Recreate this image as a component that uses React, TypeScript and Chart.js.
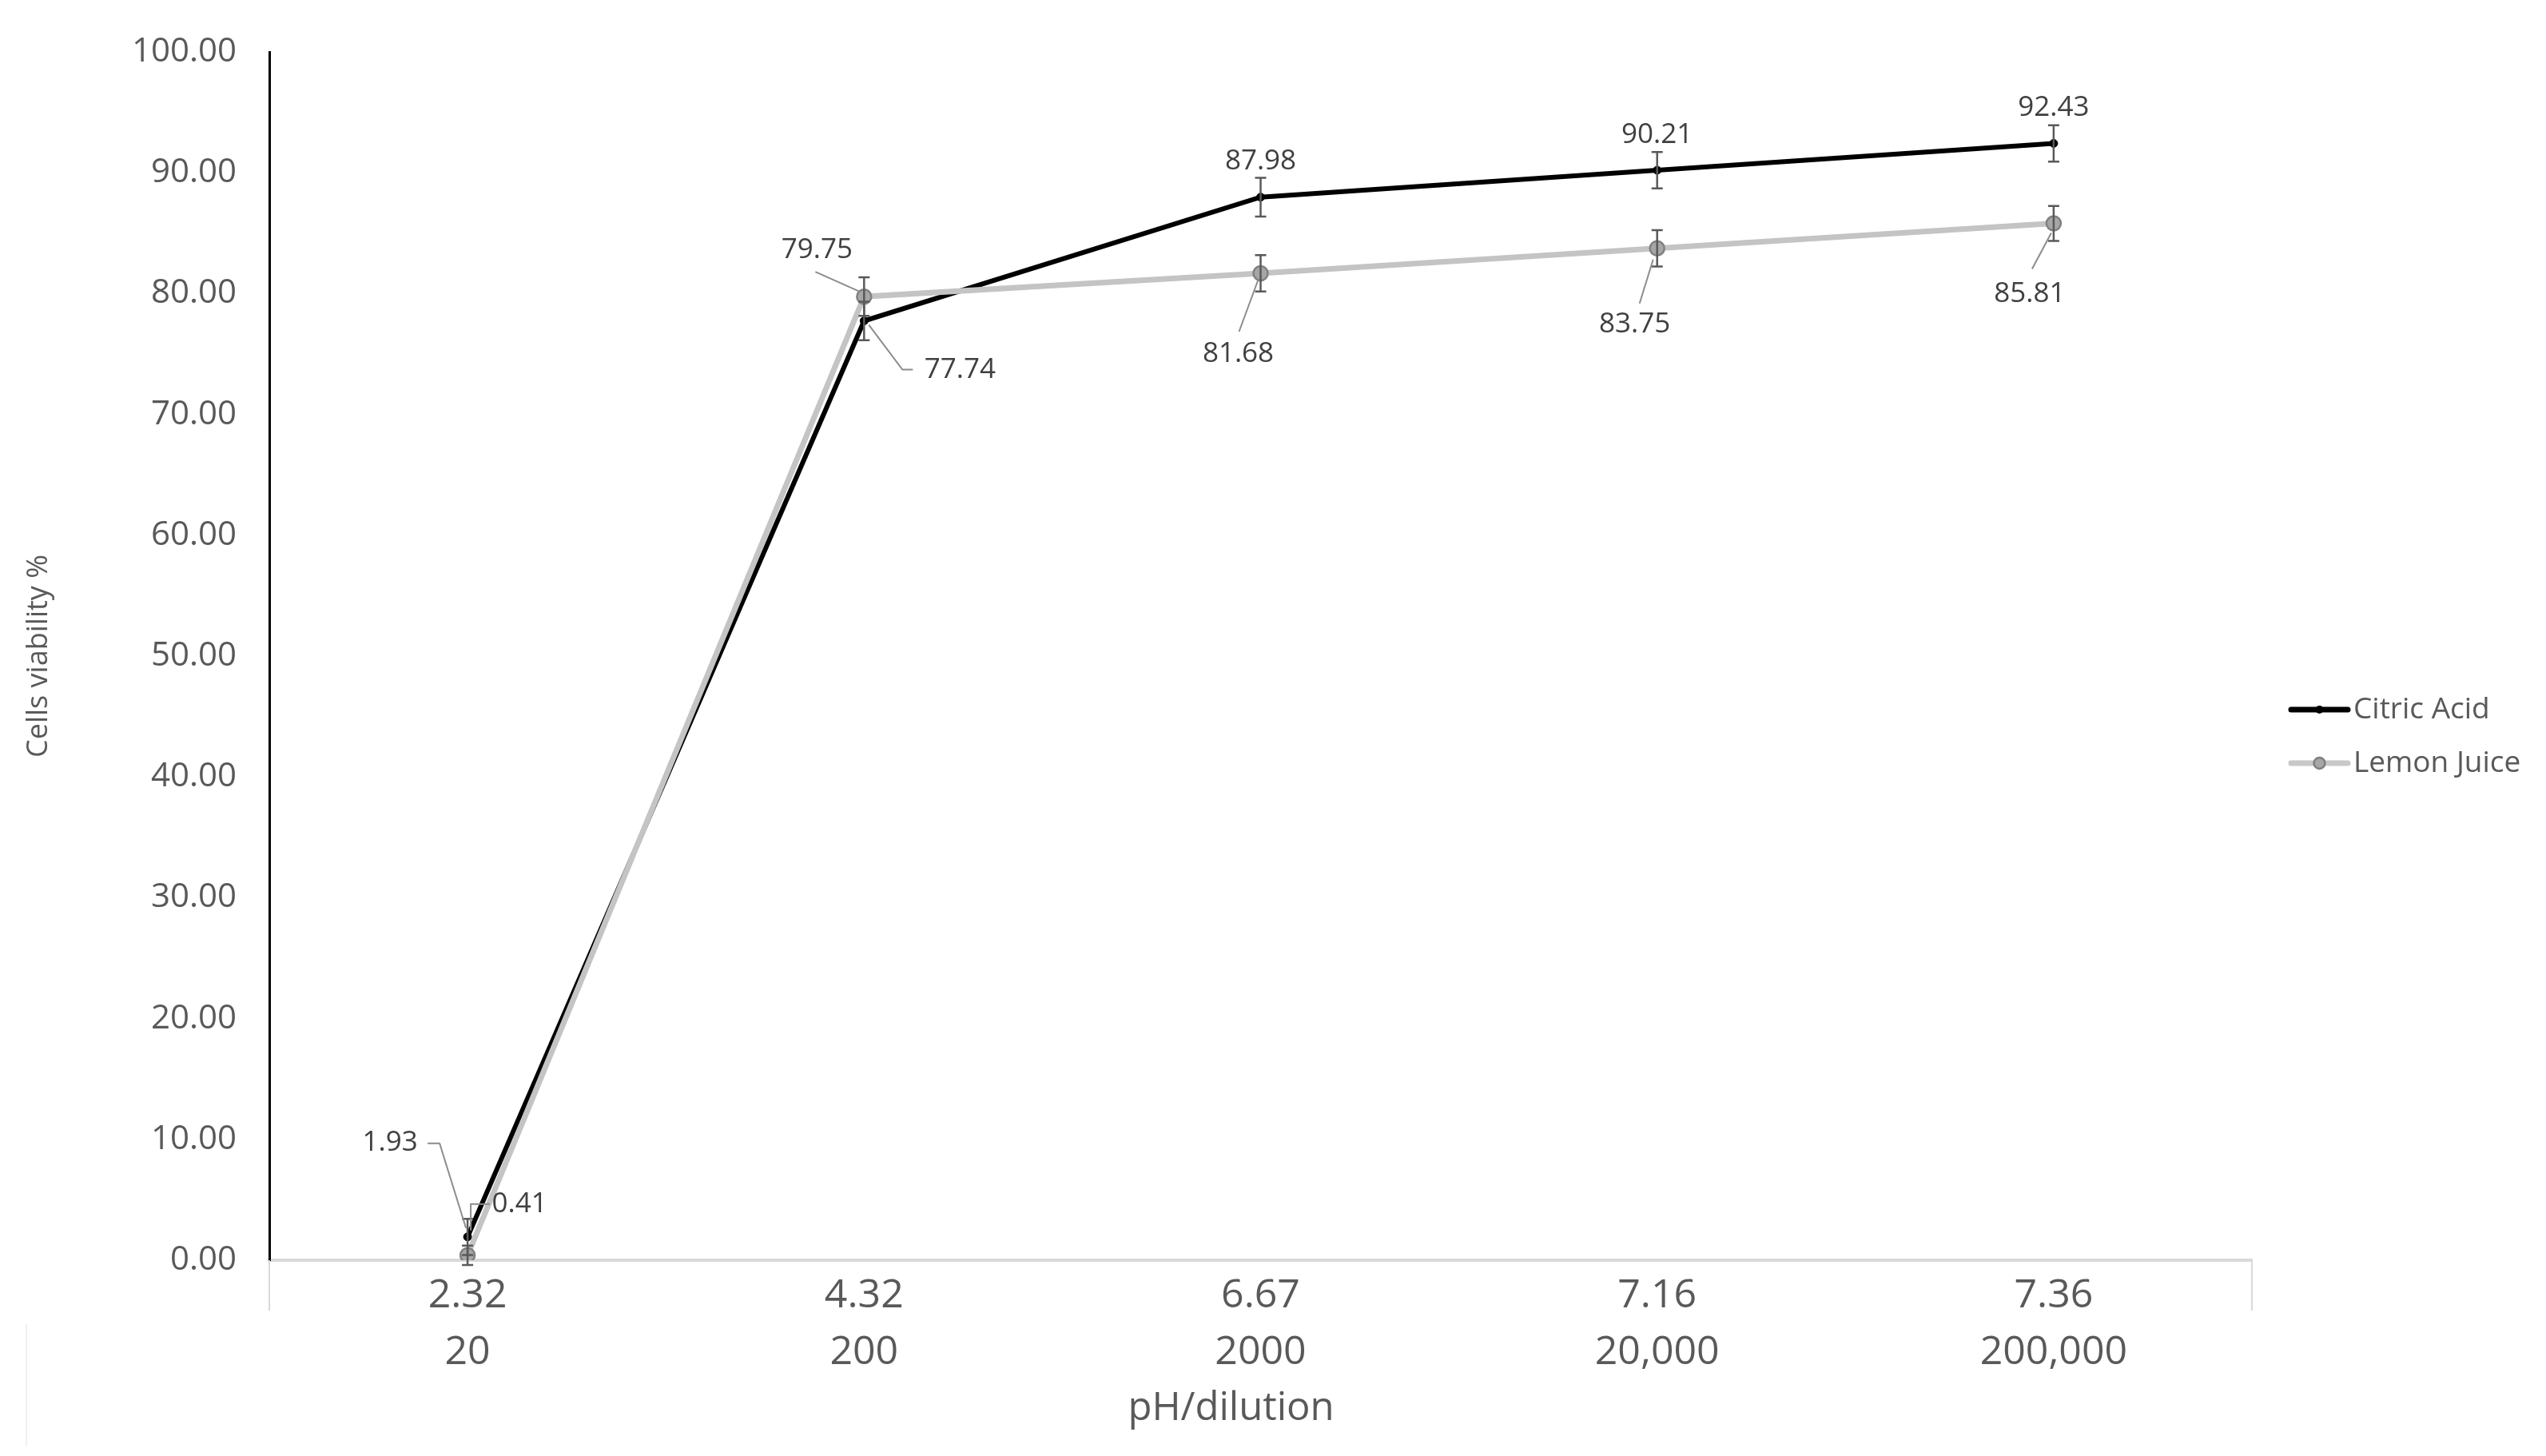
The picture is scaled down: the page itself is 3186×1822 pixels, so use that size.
import React, { useEffect, useRef } from "react";
import { Chart, registerables } from "chart.js";

Chart.register(...registerables);

// ---------- data ----------
const phLabels = ["2.32", "4.32", "6.67", "7.16", "7.36"];
const dilutionLabels = ["20", "200", "2000", "20,000", "200,000"];
const seriesNames = ["Citric Acid", "Lemon Juice"];
const citricAcid = [1.93, 77.74, 87.98, 90.21, 92.43];
const lemonJuice = [0.41, 79.75, 81.68, 83.75, 85.81];
const citricErr = [1.5, 1.6, 1.6, 1.5, 1.5];
const lemonErr = [0.8, 1.6, 1.5, 1.5, 1.45];
const yMin = 0;
const yMax = 100;
const yStep = 10;
const xTitle = "pH/dilution";
const yTitle = "Cells viability %";

// ---------- style (label offsets relative to each point, px) ----------
const FONT = "'Open Sans', 'Liberation Sans', Arial, sans-serif";
const TEXT = "#595959";
const LABEL_TEXT = "#404040";

type LabelStyle = { dx: number; dy: number; leader?: number[][] };
const labelStyles: LabelStyle[][] = [
  [
    { dx: -97, dy: -118, leader: [[-50, -117], [-35, -117], [-2, -11]] },
    { dx: 120, dy: 61, leader: [[61, 61], [48, 61], [6, 5]] },
    { dx: 0, dy: -45 },
    { dx: 0, dy: -44 },
    { dx: 0, dy: -44 },
  ],
  [
    { dx: 65, dy: -64, leader: [[28, -64], [4, -64], [4, -31]] },
    { dx: -59, dy: -58, leader: [[-61, -31], [-5, -6]] },
    { dx: -28, dy: 101, leader: [[-27, 73], [-3, 8]] },
    { dx: -28, dy: 95, leader: [[-22, 69], [-5, 14]] },
    { dx: -30, dy: 88, leader: [[-27, 57], [-3, 12]] },
  ],
];

const seriesValues = [citricAcid, lemonJuice];
const seriesErrors = [citricErr, lemonErr];

const errorBarPlugin = {
  id: "errorBars",
  afterDatasetsDraw(chart: any) {
    const { ctx } = chart;
    const y = chart.scales.y;
    ctx.save();
    ctx.strokeStyle = "#595959";
    ctx.lineWidth = 2.5;
    seriesValues.forEach((vals, di) => {
      const meta = chart.getDatasetMeta(di);
      vals.forEach((v, i) => {
        const el = meta.data[i];
        if (!el) return;
        const e = seriesErrors[di][i];
        const top = y.getPixelForValue(v + e);
        const bot = y.getPixelForValue(Math.max(v - e, yMin - 5));
        const cap = 7;
        ctx.beginPath();
        ctx.moveTo(el.x, top);
        ctx.lineTo(el.x, bot);
        ctx.moveTo(el.x - cap, top);
        ctx.lineTo(el.x + cap, top);
        ctx.moveTo(el.x - cap, bot);
        ctx.lineTo(el.x + cap, bot);
        ctx.stroke();
      });
    });
    ctx.restore();
  },
};

const dataLabelPlugin = {
  id: "dataLabels",
  afterDatasetsDraw(chart: any) {
    const { ctx } = chart;
    ctx.save();
    seriesValues.forEach((vals, di) => {
      const meta = chart.getDatasetMeta(di);
      vals.forEach((v, i) => {
        const el = meta.data[i];
        if (!el) return;
        const st = labelStyles[di][i];
        if (st.leader) {
          ctx.strokeStyle = "#8c8c8c";
          ctx.lineWidth = 2;
          ctx.beginPath();
          st.leader.forEach((p, k) => {
            if (k === 0) ctx.moveTo(el.x + p[0], el.y + p[1]);
            else ctx.lineTo(el.x + p[0], el.y + p[1]);
          });
          ctx.stroke();
        }
        ctx.fillStyle = LABEL_TEXT;
        ctx.font = `35px ${FONT}`;
        ctx.textAlign = "center";
        ctx.textBaseline = "middle";
        ctx.fillText(v.toFixed(2), el.x + st.dx, el.y + st.dy);
      });
    });
    ctx.restore();
  },
};

const legendPlugin = {
  id: "customLegend",
  afterDraw(chart: any) {
    const { ctx, chartArea } = chart;
    const x0 = chartArea.right + 49;
    const x1 = chartArea.right + 120;
    const tx = chartArea.right + 127;
    const cy = (chartArea.top + chartArea.bottom) / 2;
    const rows = [cy + 67, cy + 134];
    ctx.save();
    ctx.lineCap = "round";
    // Citric Acid
    ctx.strokeStyle = "#000";
    ctx.lineWidth = 7;
    ctx.beginPath();
    ctx.moveTo(x0, rows[0]);
    ctx.lineTo(x1, rows[0]);
    ctx.stroke();
    ctx.fillStyle = "#000";
    ctx.beginPath();
    ctx.arc((x0 + x1) / 2, rows[0], 5, 0, Math.PI * 2);
    ctx.fill();
    // Lemon Juice
    ctx.strokeStyle = "#c8c8c8";
    ctx.lineWidth = 7;
    ctx.beginPath();
    ctx.moveTo(x0, rows[1]);
    ctx.lineTo(x1, rows[1]);
    ctx.stroke();
    ctx.fillStyle = "#a6a6a6";
    ctx.strokeStyle = "#7f7f7f";
    ctx.lineWidth = 2.5;
    ctx.beginPath();
    ctx.arc((x0 + x1) / 2, rows[1], 7, 0, Math.PI * 2);
    ctx.fill();
    ctx.stroke();
    ctx.fillStyle = TEXT;
    ctx.font = `37px ${FONT}`;
    ctx.textAlign = "left";
    ctx.textBaseline = "middle";
    ctx.fillText(seriesNames[0], tx, rows[0]);
    ctx.fillText(seriesNames[1], tx, rows[1]);
    ctx.restore();
  },
};

const xTitlePlugin = {
  id: "xTitle",
  afterDraw(chart: any) {
    const { ctx, chartArea } = chart;
    ctx.save();
    ctx.fillStyle = TEXT;
    ctx.font = `49px ${FONT}`;
    ctx.textAlign = "center";
    ctx.textBaseline = "alphabetic";
    ctx.fillText(xTitle, (chartArea.left + chartArea.right) / 2 - 37, chartArea.bottom + 200);
    ctx.restore();
  },
};

const boxLinesPlugin = {
  id: "boxLines",
  beforeDatasetsDraw(chart: any) {
    const { ctx, chartArea } = chart;
    ctx.save();
    ctx.strokeStyle = "#d9d9d9";
    ctx.lineWidth = 2;
    ctx.beginPath();
    ctx.moveTo(chartArea.left, chartArea.bottom);
    ctx.lineTo(chartArea.left, chartArea.bottom + 63);
    ctx.moveTo(chartArea.right, chartArea.bottom);
    ctx.lineTo(chartArea.right, chartArea.bottom + 63);
    ctx.stroke();
    ctx.strokeStyle = "#f0f0f0";
    ctx.beginPath();
    ctx.moveTo(33, chartArea.bottom + 80);
    ctx.lineTo(33, chartArea.bottom + 233);
    ctx.stroke();
    ctx.restore();
  },
};

export default function App() {
  const ref = useRef<HTMLCanvasElement | null>(null);

  useEffect(() => {
    document.body.style.margin = "0";
    document.body.style.background = "#ffffff";
    if (!ref.current) return;
    const labels = phLabels.map((p, i) => [p, dilutionLabels[i]]);
    const chart = new Chart(ref.current, {
      type: "line",
      data: {
        labels,
        datasets: [
          {
            label: seriesNames[0],
            data: citricAcid,
            borderColor: "#000000",
            backgroundColor: "#000000",
            borderWidth: 6,
            pointRadius: 5,
            pointBackgroundColor: "#000000",
            pointBorderColor: "#000000",
            pointBorderWidth: 1,
            tension: 0,
            order: 1,
          },
          {
            label: seriesNames[1],
            data: lemonJuice,
            borderColor: "#c4c4c4",
            backgroundColor: "#a6a6a6",
            borderWidth: 7,
            pointRadius: 9,
            pointBackgroundColor: "#a6a6a6",
            pointBorderColor: "#808080",
            pointBorderWidth: 2.5,
            tension: 0,
            order: 0,
          },
        ],
      },
      options: {
        responsive: false,
        animation: false,
        events: [],
        layout: { padding: { top: 65, right: 368, left: 0, bottom: 0 } },
        plugins: {
          legend: { display: false },
          tooltip: { enabled: false },
        },
        scales: {
          x: {
            type: "category",
            offset: true,
            grid: { display: false },
            border: { display: true, color: "#d9d9d9", width: 4 },
            ticks: {
              color: TEXT,
              font: { family: FONT, size: 50, lineHeight: 1.42 },
              padding: 1,
              maxRotation: 0,
              autoSkip: false,
            },
            afterFit(scale: any) {
              scale.height = 245;
            },
          },
          y: {
            min: yMin,
            max: yMax,
            grid: { display: false },
            border: { display: true, color: "#000000", width: 3 },
            ticks: {
              stepSize: yStep,
              color: TEXT,
              font: { family: FONT, size: 42 },
              padding: 33,
              callback: (v: any) => Number(v).toFixed(2),
            },
            title: {
              display: true,
              text: yTitle,
              color: TEXT,
              font: { family: FONT, size: 36, lineHeight: 1.2 },
              padding: { top: 27, bottom: 0 },
            },
            afterFit(scale: any) {
              scale.width = 337;
            },
          },
        },
      },
      plugins: [boxLinesPlugin, errorBarPlugin, dataLabelPlugin, legendPlugin, xTitlePlugin],
    });
    return () => chart.destroy();
  }, []);

  return (
    <div style={{ width: 3186, height: 1822, background: "#fff" }}>
      <canvas ref={ref} width={3186} height={1822} style={{ display: "block", width: 3186, height: 1822 }} />
    </div>
  );
}
